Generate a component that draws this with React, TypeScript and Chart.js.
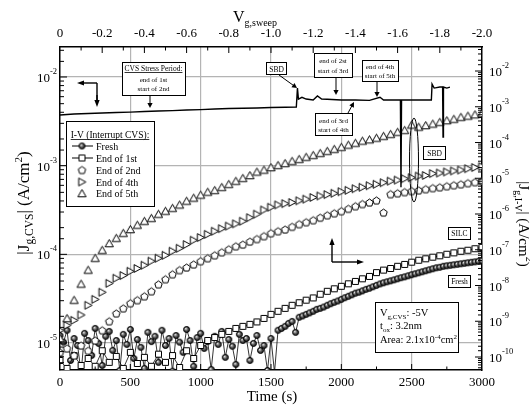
import React, { useEffect, useRef } from 'react';
import { Chart, registerables } from 'chart.js';

Chart.register(...registerables);

const SERIF = "'Liberation Serif', 'Times New Roman', serif";
const GRID = '#b4b4b4';

// ---------- CVS stress current (left axis, vs time) ----------
const stressTime = [0, 50, 100, 200, 300, 400, 500, 600, 700, 800, 900, 1000, 1100, 1200, 1300, 1400, 1500, 1600, 1680, 1688, 1695, 1720, 1750, 1800, 1830, 1860, 1900, 2000, 2100, 2200, 2275, 2300, 2400, 2420, 2424, 2428, 2500, 2600, 2640, 2645, 2660, 2700, 2720, 2723, 2726, 2750, 2772];
const stressJ = [3.72e-3, 3.77e-3, 3.82e-3, 3.87e-3, 3.92e-3, 3.97e-3, 4.02e-3, 4.08e-3, 4.13e-3, 4.18e-3, 4.24e-3, 4.29e-3, 4.35e-3, 4.41e-3, 4.44e-3, 4.47e-3, 4.52e-3, 4.55e-3, 4.58e-3, 7.5e-3, 5.64e-3, 5.9e-3, 5.64e-3, 5.5e-3, 6.1e-3, 5.64e-3, 5.6e-3, 5.5e-3, 5.5e-3, 5.45e-3, 5.9e-3, 5.5e-3, 5.5e-3, 5.5e-3, 5.7e-4, 5.5e-3, 5.5e-3, 5.5e-3, 5.5e-3, 8.3e-3, 7.5e-3, 7.7e-3, 7.7e-3, 2.1e-3, 7.7e-3, 7.5e-3, 7.7e-3];

// ---------- I-V sweeps (right axis); time axis equals V sweep (x1500 s/V) ----------
const ivTime = [0, 50, 100, 150, 200, 250, 300, 350, 400, 450, 500, 550, 600, 650, 700, 750, 800, 850, 900, 950, 1000, 1050, 1100, 1150, 1200, 1250, 1300, 1350, 1400, 1450, 1500, 1550, 1600, 1650, 1700, 1750, 1800, 1850, 1900, 1950, 2000, 2050, 2100, 2150, 2200, 2250, 2300, 2350, 2400, 2450, 2500, 2550, 2600, 2650, 2700, 2750, 2800, 2850, 2900, 2950, 3000];

const end1J = [8.0e-11, 4.8e-11, 1.1e-10, 5.8e-11, 9.1e-11, 5.5e-11, 1.5e-10, 7.1e-11, 1.04e-10, 4.8e-11,
  1.35e-10, 6.6e-11, 9.8e-11, 5.5e-11, 1.2e-10, 7.1e-11, 1.1e-10, 5.1e-11, 1.5e-10, 9.1e-11,
  2.1e-10, 2.9e-10, 3.5e-10, 4.3e-10, 5.2e-10, 6.3e-10, 7.2e-10, 8.2e-10, 9.6e-10, 1.2e-9,
  1.56e-9, 1.9e-9, 2.3e-9, 2.8e-9, 3.3e-9, 3.9e-9, 4.5e-9, 5.7e-9, 6.9e-9, 8.1e-9,
  9.5e-9, 1.12e-8, 1.3e-8, 1.54e-8, 1.8e-8, 2.3e-8, 2.7e-8, 3.0e-8, 3.45e-8, 3.9e-8,
  4.5e-8, 5.1e-8, 5.6e-8, 6.2e-8, 6.8e-8, 7.5e-8, 8.2e-8, 9.1e-8, 9.7e-8, 1.07e-7, 1.17e-7];

const end2J = [1.35e-10, 1.74e-10, 1.1e-10, 2.1e-10, 1.5e-10, 2.9e-10, 5.6e-10, 1.0e-9, 1.66e-9, 2.3e-9,
  3.2e-9, 3.9e-9, 5.0e-9, 6.9e-9, 1.08e-8, 1.5e-8, 2.06e-8, 2.7e-8, 3.2e-8, 3.9e-8,
  4.8e-8, 5.8e-8, 7.0e-8, 8.5e-8, 1.03e-7, 1.25e-7, 1.4e-7, 1.7e-7, 2.0e-7, 2.4e-7,
  2.9e-7, 3.3e-7, 3.7e-7, 4.4e-7, 5.2e-7, 5.9e-7, 6.7e-7, 7.9e-7, 9.2e-7, 1.05e-6,
  1.2e-6, 1.4e-6, 1.65e-6, 1.9e-6, 2.1e-6, 2.4e-6, 1.1e-6, 3.6e-6, 3.8e-6, 4.1e-6,
  4.4e-6, 4.6e-6, 4.95e-6, 5.3e-6, 5.6e-6, 6.0e-6, 6.4e-6, 6.8e-6, 7.3e-6, 7.8e-6, 8.3e-6];

const end4J = [5.6e-10, 7.7e-10, 1.06e-9, 1.5e-9, 2.8e-9, 4.1e-9, 6.5e-9, 1.15e-8, 1.6e-8, 1.9e-8,
  2.5e-8, 3.0e-8, 3.7e-8, 4.8e-8, 5.8e-8, 7.0e-8, 9.1e-8, 1.1e-7, 1.4e-7, 1.85e-7,
  2.2e-7, 2.7e-7, 3.3e-7, 3.9e-7, 4.6e-7, 5.3e-7, 6.3e-7, 7.9e-7, 9.9e-7, 1.3e-6,
  1.55e-6, 1.8e-6, 1.95e-6, 2.1e-6, 2.35e-6, 2.6e-6, 2.9e-6, 3.2e-6, 3.5e-6, 3.8e-6,
  4.2e-6, 4.6e-6, 5.1e-6, 5.6e-6, 6.2e-6, 6.8e-6, 7.5e-6, 8.3e-6, 8.9e-6, 9.7e-6,
  1.04e-5, 1.15e-5, 1.2e-5, 1.35e-5, 1.4e-5, 1.5e-5, 1.6e-5, 1.7e-5, 1.85e-5, 2.0e-5, 2.1e-5];

const end5J = [3.3e-10, 1.2e-9, 3.9e-9, 1.1e-8, 2.7e-8, 5.8e-8, 9.7e-8, 1.5e-7, 2.1e-7, 2.9e-7,
  3.7e-7, 4.9e-7, 6.3e-7, 7.6e-7, 9.9e-7, 1.2e-6, 1.45e-6, 1.8e-6, 2.3e-6, 2.8e-6,
  3.4e-6, 4.1e-6, 4.6e-6, 5.6e-6, 6.8e-6, 8.3e-6, 1.0e-5, 1.2e-5, 1.5e-5, 1.7e-5,
  2.0e-5, 2.3e-5, 2.6e-5, 3.0e-5, 3.4e-5, 3.9e-5, 4.4e-5, 5.0e-5, 5.7e-5, 6.5e-5,
  7.4e-5, 8.5e-5, 9.6e-5, 1.1e-4, 1.2e-4, 1.33e-4, 1.5e-4, 1.7e-4, 1.95e-4, 2.2e-4,
  3.1e-4, 2.7e-4, 3.0e-4, 3.3e-4, 3.7e-4, 4.1e-4, 4.5e-4, 5.1e-4, 5.5e-4, 6.0e-4, 6.6e-4];

const freshTime = [0, 25, 50, 75, 100, 125, 150, 175, 200, 225, 250, 275, 300, 325, 350, 375, 400, 425, 450, 475, 500, 525, 550, 575, 600, 625, 650, 675, 700, 725, 750, 775, 800, 825, 850, 875, 900, 925, 950, 975, 1000, 1025, 1050, 1075, 1100, 1125, 1150, 1175, 1200, 1225, 1250, 1275, 1300, 1325, 1350, 1375, 1400, 1425, 1450, 1475, 1500, 1525, 1550, 1575, 1600, 1625, 1650, 1675, 1700, 1725, 1750, 1775, 1800, 1825, 1850, 1875, 1900, 1925, 1950, 1975, 2000, 2025, 2050, 2075, 2100, 2125, 2150, 2175, 2200, 2225, 2250, 2275, 2300, 2325, 2350, 2375, 2400, 2425, 2450, 2475, 2500, 2525, 2550, 2575, 2600, 2625, 2650, 2675, 2700, 2725, 2750, 2775, 2800, 2825, 2850, 2875, 2900, 2925, 2950, 2975, 3000];

const freshJ = [4.0e-10, 2.6e-10, 5.6e-10, 8.0e-11, 3.3e-10, 2.1e-10, 3.7e-11, 4.6e-10, 2.9e-10, 1.11e-10,
  6.3e-10, 2.4e-10, 5.8e-11, 3.8e-10, 5.2e-10, 1.53e-10, 2.9e-10, 4.2e-11, 4.3e-10, 2.25e-10,
  5.9e-10, 9.1e-11, 3.1e-10, 1.86e-10, 4.8e-11, 4.9e-10, 2.7e-10, 3.8e-10, 7.1e-11, 5.6e-10,
  2.1e-10, 3.3e-10, 4.0e-11, 4.0e-10, 2.6e-10, 1.35e-10, 5.9e-10, 2.9e-10, 5.5e-11, 3.5e-10,
  4.6e-10, 1.74e-10, 2.7e-10, 4.5e-11, 3.8e-10, 2.25e-10, 5.2e-10, 9.8e-11, 3.1e-10, 2.0e-10,
  6.2e-11, 4.3e-10, 2.9e-10, 3.3e-10, 8.0e-11, 2.4e-10, 4.0e-10, 1.53e-10,
  2.1e-10, 4.2e-11, 3.3e-10, 3.7e-11, 5.6e-10, 6.3e-10, 7.2e-10, 8.7e-10, 9.9e-10, 4.9e-10,
  1.29e-9, 1.41e-9, 1.56e-9, 1.72e-9, 1.9e-9, 2.15e-9, 2.3e-9, 2.5e-9, 2.8e-9, 3.1e-9,
  3.4e-9, 3.7e-9, 4.1e-9, 4.55e-9, 5.0e-9, 5.5e-9, 6.1e-9, 6.5e-9, 7.1e-9, 7.8e-9,
  8.4e-9, 9.2e-9, 1.01e-8, 1.11e-8, 1.19e-8, 1.27e-8, 1.35e-8, 1.44e-8, 1.54e-8, 1.65e-8,
  1.75e-8, 1.87e-8, 2.0e-8, 2.13e-8, 2.27e-8, 2.42e-8, 2.58e-8, 2.75e-8, 2.94e-8, 3.13e-8,
  3.24e-8, 3.45e-8, 3.56e-8, 3.68e-8, 3.8e-8, 3.93e-8, 4.05e-8, 4.19e-8, 4.33e-8, 4.47e-8,
  4.6e-8, 4.76e-8, 4.9e-8];

const legendLabels = ['Fresh', 'End of 1st', 'End of 2nd', 'End of 4th', 'End of 5th'];

// ---------- helpers ----------
const isDecade = (v: number) => { const l = Math.log10(v); return Math.abs(l - Math.round(l)) < 1e-6; };
const pts = (xs: number[], ys: number[]) => xs.map((x, i) => ({ x, y: ys[i] }));

function makeMarker(kind: string): HTMLCanvasElement {
  const size = 11;
  const c = document.createElement('canvas');
  c.width = size; c.height = size;
  const g = c.getContext('2d')!;
  const m = size / 2;
  g.lineWidth = 1; g.strokeStyle = '#000'; g.fillStyle = '#fff';
  g.beginPath();
  if (kind === 'sphere') {
    const grad = g.createRadialGradient(m - 1, m - 1, 0.2, m, m, 3.4);
    grad.addColorStop(0, '#e8e8e8'); grad.addColorStop(0.45, '#666'); grad.addColorStop(1, '#000');
    g.fillStyle = grad;
    g.arc(m, m, 3, 0, Math.PI * 2);
  } else if (kind === 'square') {
    g.rect(2.5, 2.5, 6, 6);
  } else if (kind === 'pentagon') {
    for (let k = 0; k < 5; k++) {
      const a = -Math.PI / 2 + (k * 2 * Math.PI) / 5;
      const px = m + 3.9 * Math.cos(a), py = m + 0.4 + 3.9 * Math.sin(a);
      if (k) g.lineTo(px, py); else g.moveTo(px, py);
    }
    g.closePath();
  } else if (kind === 'triUp') {
    g.moveTo(m, 1.5); g.lineTo(9.6, 8.8); g.lineTo(1.4, 8.8); g.closePath();
  } else if (kind === 'triRight') {
    g.moveTo(2.2, 1.6); g.lineTo(9.4, 5.5); g.lineTo(2.2, 9.4); g.closePath();
  }
  g.fill(); g.stroke();
  return c;
}

type Seg = { t: string; s: number; dy?: number };
function drawRich(ctx: CanvasRenderingContext2D, segs: Seg[], x: number, y: number, align: 'left' | 'center' | 'right') {
  let total = 0;
  for (const sg of segs) { ctx.font = `${sg.s}px ${SERIF}`; total += ctx.measureText(sg.t).width; }
  let cx = align === 'center' ? x - total / 2 : align === 'right' ? x - total : x;
  ctx.textAlign = 'left'; ctx.textBaseline = 'alphabetic'; ctx.fillStyle = '#000';
  for (const sg of segs) {
    ctx.font = `${sg.s}px ${SERIF}`;
    ctx.fillText(sg.t, cx, y + (sg.dy || 0));
    cx += ctx.measureText(sg.t).width;
  }
}
function box(ctx: CanvasRenderingContext2D, x: number, y: number, w: number, h: number) {
  ctx.fillStyle = '#fff'; ctx.fillRect(x, y, w, h);
  ctx.strokeStyle = '#000'; ctx.lineWidth = 1; ctx.strokeRect(x + 0.5, y + 0.5, w, h);
}
function textC(ctx: CanvasRenderingContext2D, t: string, x: number, y: number, size: number, underline = false) {
  ctx.font = `${size}px ${SERIF}`; ctx.fillStyle = '#000'; ctx.textAlign = 'center'; ctx.textBaseline = 'alphabetic';
  ctx.fillText(t, x, y);
  if (underline) { const w = ctx.measureText(t).width; ctx.fillRect(x - w / 2, y + 1.2, w, 0.8); }
}
function arrow(ctx: CanvasRenderingContext2D, x1: number, y1: number, x2: number, y2: number, lw = 1, head = 6) {
  const ang = Math.atan2(y2 - y1, x2 - x1);
  ctx.strokeStyle = '#000'; ctx.fillStyle = '#000'; ctx.lineWidth = lw;
  ctx.beginPath(); ctx.moveTo(x1, y1); ctx.lineTo(x2 - Math.cos(ang) * head * 0.8, y2 - Math.sin(ang) * head * 0.8); ctx.stroke();
  ctx.beginPath();
  ctx.moveTo(x2, y2);
  ctx.lineTo(x2 - head * Math.cos(ang) + 2.6 * Math.sin(ang), y2 - head * Math.sin(ang) - 2.6 * Math.cos(ang));
  ctx.lineTo(x2 - head * Math.cos(ang) - 2.6 * Math.sin(ang), y2 - head * Math.sin(ang) + 2.6 * Math.cos(ang));
  ctx.closePath(); ctx.fill();
}

export default function App() {
  const ref = useRef<HTMLCanvasElement>(null);
  useEffect(() => {
    const canvas = ref.current!;
    const mk = {
      sphere: makeMarker('sphere'), square: makeMarker('square'), pentagon: makeMarker('pentagon'),
      triRight: makeMarker('triRight'), triUp: makeMarker('triUp'),
    };

    const innerTicks = {
      id: 'innerTicks',
      afterDatasetsDraw(chart: any) {
        const { ctx, chartArea: a } = chart;
        const sx = chart.scales.x, st = chart.scales.xTop, sl = chart.scales.yL, sr = chart.scales.yR;
        ctx.save(); ctx.strokeStyle = '#000'; ctx.lineWidth = 1;
        ctx.beginPath();
        for (const t of sx.ticks) {
          const p = sx.getPixelForValue(t.value);
          if (p <= a.left + 1 || p >= a.right - 1) continue;
          const L = t.value % 500 === 0 ? 6 : 3.5;
          ctx.moveTo(p, a.bottom); ctx.lineTo(p, a.bottom - L);
        }
        for (const t of st.ticks) {
          const p = st.getPixelForValue(t.value);
          if (p <= a.left + 1 || p >= a.right - 1) continue;
          const L = Math.round(t.value * 10) % 2 === 0 ? 6 : 3.5;
          ctx.moveTo(p, a.top); ctx.lineTo(p, a.top + L);
        }
        for (const t of sl.ticks) {
          const p = sl.getPixelForValue(t.value);
          if (p <= a.top + 1 || p >= a.bottom - 1) continue;
          const L = isDecade(t.value) ? 7 : 4;
          ctx.moveTo(a.left, p); ctx.lineTo(a.left + L, p);
        }
        for (const t of sr.ticks) {
          const p = sr.getPixelForValue(t.value);
          if (p <= a.top + 1 || p >= a.bottom - 1) continue;
          const L = isDecade(t.value) ? 7 : 4;
          ctx.moveTo(a.right, p); ctx.lineTo(a.right - L, p);
        }
        ctx.stroke(); ctx.restore();
      },
    };

    const powLabels = {
      id: 'powLabels',
      afterDraw(chart: any) {
        const ctx: CanvasRenderingContext2D = chart.ctx;
        const { chartArea: a } = chart;
        ctx.save();
        const draw = (scale: any, x: number, align: 'left' | 'right') => {
          for (const t of scale.ticks) {
            if (!isDecade(t.value)) continue;
            const p = scale.getPixelForValue(t.value);
            if (p < a.top - 1 || p > a.bottom + 1) continue;
            const e = String(Math.round(Math.log10(t.value)));
            drawRich(ctx, [{ t: '10', s: 13 }, { t: e, s: 8.5, dy: -8 }], x, p + 5, align);
          }
        };
        draw(chart.scales.yL, 57, 'right');
        draw(chart.scales.yR, 489, 'left');
        ctx.restore();
      },
    };

    const annotations = {
      id: 'annotations',
      afterDraw(chart: any) {
        const ctx: CanvasRenderingContext2D = chart.ctx;
        ctx.save();
        // SBD ellipse
        ctx.strokeStyle = '#000'; ctx.lineWidth = 1;
        ctx.beginPath(); ctx.ellipse(414, 160, 4.5, 42, 0, 0, Math.PI * 2); ctx.stroke();

        // axis direction indicators
        ctx.strokeStyle = '#000'; ctx.lineWidth = 1.4;
        ctx.beginPath(); ctx.moveTo(97, 83); ctx.lineTo(97, 100); ctx.stroke();
        arrow(ctx, 97, 83, 77, 83, 1.4, 7);
        arrow(ctx, 97, 95, 97, 107, 1.4, 7);
        arrow(ctx, 332, 262, 332, 238, 1.4, 7);
        arrow(ctx, 332, 262, 364, 262, 1.4, 7);

        // stress-period boxes
        box(ctx, 122, 62, 63, 33);
        textC(ctx, 'CVS Stress Period:', 153.5, 71, 7.5, true);
        textC(ctx, 'end of 1st', 153.5, 81.5, 7);
        textC(ctx, 'start of 2nd', 153.5, 91, 7);
        arrow(ctx, 150, 95, 150, 108, 1, 5);

        box(ctx, 266, 62, 20, 12);
        textC(ctx, 'SBD', 276.5, 71.5, 7.5);
        arrow(ctx, 279, 75, 297, 88, 1, 5);

        box(ctx, 314, 53, 38, 24);
        textC(ctx, 'end of 2st', 333, 63, 7);
        textC(ctx, 'start of 3rd', 333, 73, 7);
        arrow(ctx, 336, 77, 336, 95, 1, 5);

        box(ctx, 362, 60, 36, 21);
        textC(ctx, 'end of 4th', 380, 68.5, 7);
        textC(ctx, 'start of 5th', 380, 77.5, 7);
        arrow(ctx, 377, 81, 377, 97, 1, 5);

        box(ctx, 315, 113, 37, 22);
        textC(ctx, 'end of 3rd', 333.5, 122.5, 7);
        textC(ctx, 'start of 4th', 333.5, 131.5, 7);
        arrow(ctx, 348, 113, 354, 102, 1, 5);

        box(ctx, 423, 146, 22, 13);
        textC(ctx, 'SBD', 434.5, 155.5, 7.5);
        box(ctx, 448, 227, 22, 12);
        textC(ctx, 'SILC', 459.5, 236, 7.5);
        box(ctx, 448, 275, 22, 12);
        textC(ctx, 'Fresh', 459.5, 284, 7.5);

        // info box
        box(ctx, 375, 302, 83, 50);
        drawRich(ctx, [{ t: 'V', s: 10.5 }, { t: 'g,CVS', s: 7, dy: 2.5 }, { t: ': -5V', s: 10.5 }], 380, 316, 'left');
        drawRich(ctx, [{ t: 't', s: 10.5 }, { t: 'ox', s: 7, dy: 2.5 }, { t: ': 3.2nm', s: 10.5 }], 380, 329, 'left');
        drawRich(ctx, [{ t: 'Area: 2.1x10', s: 10.5 }, { t: '-4', s: 7, dy: -4 }, { t: 'cm', s: 10.5 }, { t: '2', s: 7, dy: -4 }], 380, 343, 'left');

        // legend
        box(ctx, 66, 121, 88, 85);
        textC(ctx, 'I-V (Interrupt CVS):', 110, 138, 9.5, true);
        const icons = [mk.sphere, mk.square, mk.pentagon, mk.triRight, mk.triUp];
        const ys = [146, 158, 170, 182, 193.5];
        legendLabels.forEach((lab, i) => {
          const y = ys[i];
          if (i < 2) { ctx.strokeStyle = '#000'; ctx.lineWidth = 1; ctx.beginPath(); ctx.moveTo(72, y); ctx.lineTo(93, y); ctx.stroke(); }
          ctx.drawImage(icons[i], 82 - 5.5, y - 5.5);
          ctx.font = `10px ${SERIF}`; ctx.fillStyle = '#000'; ctx.textAlign = 'left'; ctx.textBaseline = 'alphabetic';
          ctx.fillText(lab, 96, y + 3.5);
        });

        // axis titles
        drawRich(ctx, [{ t: 'V', s: 16 }, { t: 'g,sweep', s: 10, dy: 4 }], 233, 22, 'left');
        drawRich(ctx, [{ t: 'Time (s)', s: 15 }], 272, 401, 'center');
        ctx.save(); ctx.translate(29, 203); ctx.rotate(-Math.PI / 2);
        drawRich(ctx, [{ t: '|J', s: 17 }, { t: 'g,CVS', s: 11.5, dy: 4 }, { t: '| (A/cm', s: 17 }, { t: '2', s: 11, dy: -7.5 }, { t: ')', s: 17 }], 0, 0, 'center');
        ctx.restore();
        ctx.save(); ctx.translate(519, 224); ctx.rotate(Math.PI / 2);
        drawRich(ctx, [{ t: '|J', s: 15 }, { t: 'g,I-V', s: 10, dy: 4 }, { t: '| (A/cm', s: 15 }, { t: '2', s: 10, dy: -7 }, { t: ')', s: 15 }], 0, 0, 'center');
        ctx.restore();
        ctx.restore();
      },
    };

    const tickFont = { family: SERIF, size: 13 };
    const chart = new Chart(canvas, {
      type: 'line',
      data: {
        datasets: [
          { label: 'CVS stress', data: pts(stressTime, stressJ), xAxisID: 'x', yAxisID: 'yL', borderColor: '#000', borderWidth: 1.4, pointRadius: 0, order: 0 },
          { label: legendLabels[0], data: pts(freshTime, freshJ), xAxisID: 'x', yAxisID: 'yR', borderColor: '#000', borderWidth: 0.8, pointStyle: mk.sphere as any, pointRadius: 3, order: 5 },
          { label: legendLabels[1], data: pts(ivTime, end1J), xAxisID: 'x', yAxisID: 'yR', borderColor: '#000', borderWidth: 0.8, pointStyle: mk.square as any, pointRadius: 3, order: 4 },
          { label: legendLabels[2], data: pts(ivTime, end2J), xAxisID: 'x', yAxisID: 'yR', showLine: false, borderColor: '#000', pointStyle: mk.pentagon as any, pointRadius: 3, order: 3 },
          { label: legendLabels[3], data: pts(ivTime, end4J), xAxisID: 'x', yAxisID: 'yR', showLine: false, borderColor: '#000', pointStyle: mk.triRight as any, pointRadius: 3, order: 2 },
          { label: legendLabels[4], data: pts(ivTime, end5J), xAxisID: 'x', yAxisID: 'yR', showLine: false, borderColor: '#000', pointStyle: mk.triUp as any, pointRadius: 3, order: 1 },
        ],
      },
      options: {
        animation: false,
        responsive: false,
        maintainAspectRatio: false,
        layout: { padding: 0 },
        plugins: { legend: { display: false }, tooltip: { enabled: false }, title: { display: false } },
        scales: {
          x: {
            type: 'linear', position: 'bottom', min: 0, max: 3000,
            ticks: { stepSize: 250, autoSkip: false, maxRotation: 0, padding: 5, color: '#000', font: tickFont, callback: (v: any) => (Number(v) % 500 === 0 ? String(v) : '') },
            grid: { drawTicks: false, lineWidth: 1.2, color: (c: any) => (c.tick && c.tick.value % 500 === 0 && c.tick.value > 0 && c.tick.value < 3000 ? GRID : 'rgba(0,0,0,0)') },
            border: { color: '#000', width: 1.5 },
            afterFit: (s: any) => { s.height = 35; },
          },
          xTop: {
            type: 'linear', position: 'top', min: -2, max: 0, reverse: true,
            ticks: {
              stepSize: 0.1, autoSkip: false, maxRotation: 0, padding: 6, color: '#000', font: tickFont,
              callback: (v: any) => { const n = Math.round(Number(v) * 10); if (n % 2 !== 0) return ''; return n === 0 ? '0' : (n / 10).toFixed(1); },
            },
            grid: { display: false, drawTicks: false },
            border: { color: '#000', width: 1.5 },
            afterFit: (s: any) => { s.height = 47; },
          },
          yL: {
            type: 'logarithmic', position: 'left', min: 4.96e-6, max: 0.02179,
            ticks: { autoSkip: false, padding: 3, color: '#000', font: tickFont, callback: () => '' },
            grid: { drawTicks: false, lineWidth: 1.2, color: (c: any) => (c.tick && isDecade(c.tick.value) ? GRID : 'rgba(0,0,0,0)') },
            border: { color: '#000', width: 1.5 },
            afterFit: (s: any) => { s.width = 60; },
          },
          yR: {
            type: 'logarithmic', position: 'right', min: 4.33e-11, max: 0.047,
            ticks: { autoSkip: false, padding: 7, color: '#000', font: tickFont, callback: () => '' },
            grid: { display: false, drawTicks: false },
            border: { color: '#000', width: 1.5 },
            afterFit: (s: any) => { s.width = 48; },
          },
        },
      } as any,
      plugins: [innerTicks, powLabels, annotations],
    });
    return () => chart.destroy();
  }, []);

  return (
    <div style={{ position: 'fixed', left: 0, top: 0, width: 530, height: 405, background: '#fff' }}>
      <canvas ref={ref} width={530} height={405} style={{ width: 530, height: 405, display: 'block' }} />
    </div>
  );
}
